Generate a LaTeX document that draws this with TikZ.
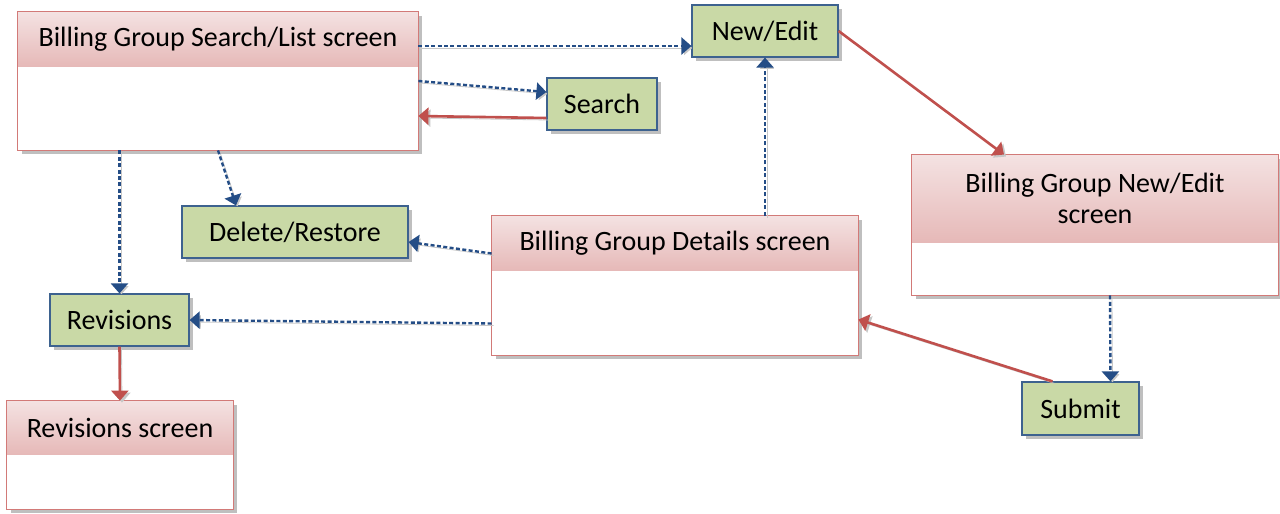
\documentclass[tikz,border=0pt]{standalone}
\usepackage{fontspec}
\setmainfont{Carlito}
\usepackage{tikz}
\usetikzlibrary{arrows.meta,positioning,shadows}
\definecolor{scrborder}{HTML}{D27A78}
\definecolor{headtop}{HTML}{F4E2E2}
\definecolor{headbot}{HTML}{E6B9B8}
\definecolor{actfill}{HTML}{C9D9A6}
\definecolor{actborder}{HTML}{3D628F}
\definecolor{flowblue}{HTML}{244D86}
\definecolor{flowred}{HTML}{C0504D}

\begin{document}
\begin{tikzpicture}[x=0.5pt,y=-0.5pt,
  every node/.style={font=\fontsize{14}{15.2}\selectfont},
  shd/.style={drop shadow={shadow xshift=2pt,shadow yshift=-2pt,opacity=0.5}},
  scr/.style={rectangle,fill=white,inner sep=0pt,shd},
  hd/.style={rectangle,inner sep=0pt,top color=headtop,bottom color=headbot,align=center},
  scrline/.style={draw=scrborder,line width=0.6pt},
  act/.style={rectangle,fill=actfill,draw=actborder,line width=0.6pt,inner sep=0pt,minimum height=26pt,shd},
  lshd/.style={preaction={draw=black!22,transform canvas={xshift=1pt,yshift=-1pt}}},
  nav/.style={flowblue,line width=1.2pt,dash pattern=on 2pt off 1.2pt,-{Triangle[length=5pt,width=8.5pt]},lshd},
  go/.style={flowred,line width=1.3pt,-{Triangle[length=5pt,width=8.5pt]},lshd}]
 \useasboundingbox (0,0) rectangle (1280,514);
 % screens
 \node[scr,minimum width=200pt,minimum height=69pt] (list) at (218,81) {};
 \node[hd,minimum width=200pt,minimum height=27pt,anchor=north] (listH) at (list.north) {Billing Group Search/List screen};
 \node[scr,minimum width=183pt,minimum height=69.5pt] (details) at (675,285.5) {};
 \node[hd,minimum width=183pt,minimum height=27pt,anchor=north] (detailsH) at (details.north) {Billing Group Details screen};
 \node[scr,minimum width=183pt,minimum height=70pt] (nescreen) at (1095,225) {};
 \node[hd,minimum width=183pt,minimum height=43.5pt,anchor=north] (nescreenH) at (nescreen.north) {Billing Group New/Edit\\screen};
 \node[scr,minimum width=113pt,minimum height=54pt] (revscreen) at (120,455) {};
 \node[hd,minimum width=113pt,minimum height=26.5pt,anchor=north] (revscreenH) at (revscreen.north) {Revisions screen};
 \foreach \s in {list,details,nescreen,revscreen}
   \draw[scrline] (\s.north west) rectangle (\s.south east);
 % actions
 \node[act,minimum width=73pt] (newedit) at (765,31) {New/Edit};
 \node[act,minimum width=55pt] (search) at (602,104) {Search};
 \node[act,minimum width=113pt] (delres) at (295,232) {Delete/Restore};
 \node[act,minimum width=69.5pt] (revisions) at (119.5,320) {Revisions};
 \node[act,minimum width=58.5pt,minimum height=26.5pt] (submit) at (1080.5,408.5) {Submit};
 % flows
 \draw[nav] ([yshift=17.5pt]list.east) -- ([yshift=-7.5pt]newedit.west);
 \draw[nav] (list.east) -- ([yshift=6pt]search.west);
 \draw[go] ([yshift=-7pt]search.west) -- ([yshift=-17.5pt]list.east);
 \draw[nav] (revisions.north |- list.south) -- (revisions.north);
 \draw[nav] (list.south) -- ([xshift=-29.5pt]delres.north);
 \draw[nav] ([yshift=16pt]details.west) -- ([yshift=-5pt]delres.east);
 \draw[nav] ([yshift=-19pt]details.west) -- (revisions.east);
 \draw[nav] (newedit.south |- details.north) -- (newedit.south);
 \draw[go] (newedit.east) -- ([xshift=-45.5pt]nescreen.north);
 \draw[nav] ([xshift=7.5pt]nescreen.south) -- ([xshift=15pt]submit.north);
 \draw[go] ([xshift=-14pt]submit.north) -- ([yshift=-17pt]details.east);
 \draw[go] (revisions.south) -- (revscreen.north);
\end{tikzpicture}
\end{document}
